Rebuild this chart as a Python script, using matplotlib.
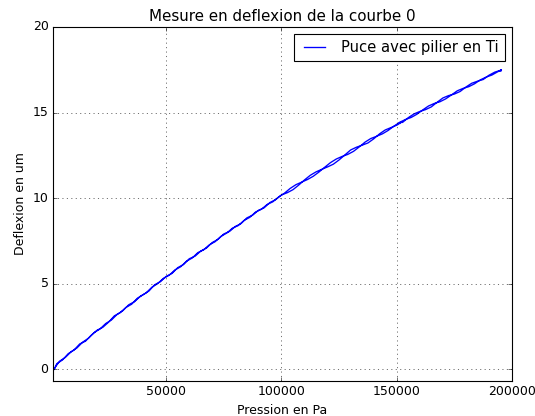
import matplotlib
matplotlib.use('Agg')
import matplotlib.pyplot as plt


# Montee en pression (Pa) et deflexion mesuree (um)
pression_montee = [1500, 2500, 5000, 7500, 10000, 12500, 15000, 17500, 20000, 22500,
                   25000, 27500, 30000, 32500, 35000, 37500, 40000, 42500, 45000, 47500,
                   50000, 52500, 55000, 57500, 60000, 62500, 65000, 67500, 70000, 72500,
                   75000, 77500, 80000, 82500, 85000, 87500, 90000, 92500, 95000, 97500,
                   100000, 102500, 105000, 107500, 110000, 112500, 115000, 117500, 120000, 122500,
                   125000, 127500, 130000, 132500, 135000, 137500, 140000, 142500, 145000, 147500,
                   150000, 150500, 151000, 151200, 151500, 151800, 152500, 155000, 157500, 160000,
                   162500, 165000, 167500, 170000, 172500, 175000, 177500, 180000, 182500, 185000,
                   187500, 190000, 192500, 195000, 195300, 195100, 195400]
deflexion_montee = [-0.02, 0.31, 0.53, 0.90, 1.11, 1.47, 1.63, 1.98, 2.27, 2.44,
                    2.74, 3.11, 3.29, 3.60, 3.79, 4.14, 4.35, 4.56, 4.93, 5.11,
                    5.42, 5.59, 5.93, 6.11, 6.45, 6.60, 6.90, 7.08, 7.40, 7.59,
                    7.90, 8.05, 8.34, 8.51, 8.84, 9.00, 9.28, 9.43, 9.74, 9.91,
                    10.18, 10.31, 10.49, 10.76, 11.06, 11.33, 11.53, 11.68, 11.82, 11.98,
                    12.23, 12.52, 12.81, 12.97, 13.09, 13.22, 13.46, 13.75, 13.98, 14.12,
                    14.26, 14.30, 14.34, 14.40, 14.36, 14.42, 14.42, 14.70, 14.92, 15.06,
                    15.17, 15.33, 15.60, 15.85, 15.99, 16.08, 16.23, 16.49, 16.71, 16.83,
                    16.93, 17.18, 17.36, 17.47, 17.50, 17.42, 17.48]

# Descente en pression
pression_descente = [193750, 191250, 188750, 186250, 183750, 181250, 178750, 176250, 173750, 171250,
                     168750, 166250, 163750, 161250, 158750, 156250, 153750, 151250, 148750, 146250,
                     143750, 141250, 138750, 136250, 133750, 131250, 128750, 126250, 123750, 121250,
                     118750, 116250, 113750, 111250, 108750, 106250, 103750, 101250, 98750, 96250,
                     93750, 91250, 88750, 86250, 83750, 81250, 78750, 76250, 73750, 71250,
                     68750, 66250, 63750, 61250, 58750, 56250, 53750, 51250, 48750, 46250,
                     43750, 41250, 38750, 36250, 33750, 31250, 28750, 26250, 23750, 21250,
                     18750, 16250, 13750, 11250, 8750, 6250, 3750, 1500]
deflexion_descente = [17.38, 17.19, 17.07, 16.91, 16.68, 16.51, 16.41, 16.27, 16.03, 15.80,
                      15.63, 15.53, 15.38, 15.15, 14.90, 14.71, 14.59, 14.43, 14.20, 13.95,
                      13.75, 13.61, 13.48, 13.27, 12.99, 12.73, 12.55, 12.43, 12.28, 12.07,
                      11.80, 11.52, 11.27, 11.08, 10.93, 10.78, 10.56, 10.28, 10.06, 9.78,
                      9.62, 9.34, 9.18, 8.87, 8.69, 8.39, 8.24, 7.95, 7.76, 7.45,
                      7.27, 6.97, 6.81, 6.49, 6.30, 5.98, 5.79, 5.48, 5.30, 4.99,
                      4.78, 4.45, 4.25, 3.94, 3.76, 3.42, 3.20, 2.87, 2.66, 2.34,
                      2.13, 1.80, 1.57, 1.23, 1.01, 0.68, 0.46, 0.04]

pression = pression_montee + pression_descente
deflexion = deflexion_montee + deflexion_descente

plt.style.use('classic')
plt.rcParams['font.size'] = 11.3
fig = plt.figure(figsize=(535 / 80.0, 416 / 80.0), dpi=80, facecolor='white')
ax = fig.add_axes([0.0991, 0.0841, 0.858, 0.851])

ax.plot(pression, deflexion, 'b-', lw=1.2, label='Puce avec pilier en Ti')
ax.set_xlim(900, 200000)
ax.set_ylim(-0.7, 20)
ax.set_xticks([50000, 100000, 150000, 200000])
ax.set_yticks([0, 5, 10, 15, 20])
ax.grid(True)
ax.set_title('Mesure en deflexion de la courbe 0', fontsize=13.6)
ax.set_xlabel('Pression en Pa')
ax.set_ylabel('Deflexion en um')
ax.legend(loc='upper right', fontsize=13.3)

fig.savefig('out.png', dpi=80, facecolor='white')
